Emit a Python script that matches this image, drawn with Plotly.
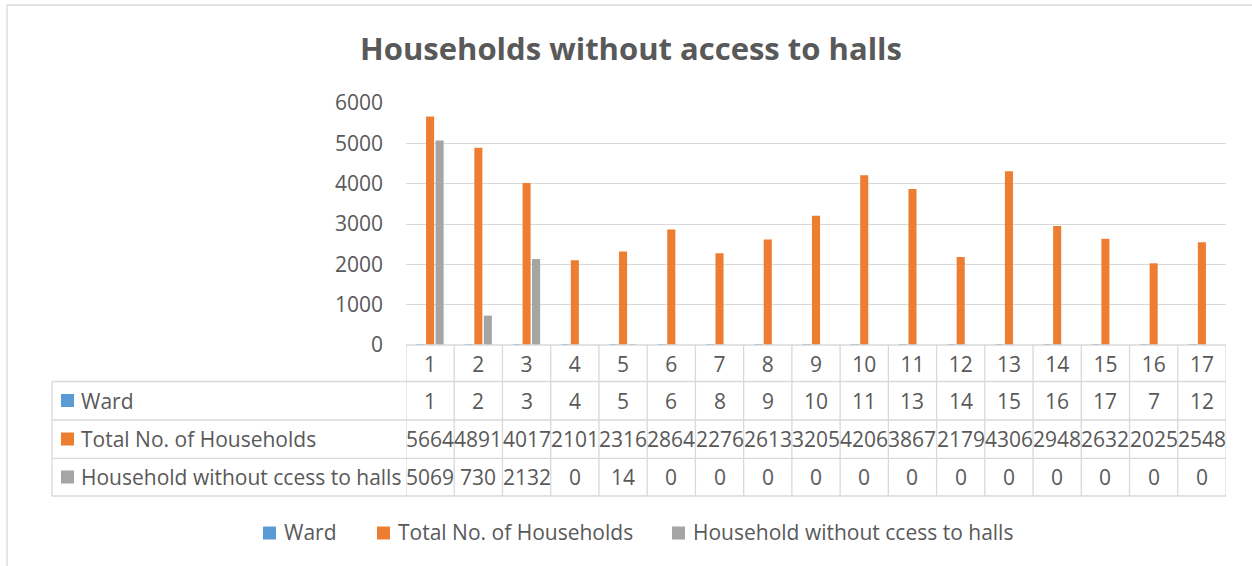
import plotly.graph_objects as go

# Ward-level data (column order follows the table)
columns = list(range(1, 18))
ward = [1, 2, 3, 4, 5, 6, 8, 9, 10, 11, 13, 14, 15, 16, 17, 7, 12]
total_households = [5664, 4891, 4017, 2101, 2316, 2864, 2276, 2613, 3205,
                    4206, 3867, 2179, 4306, 2948, 2632, 2025, 2548]
without_access = [5069, 730, 2132, 0, 14, 0, 0, 0, 0, 0, 0, 0, 0, 0, 0, 0, 0]

series_names = ["Ward", "Total No. of Households", "Household without ccess to halls"]
series_values = [ward, total_households, without_access]
series_colors = ["#5B9BD5", "#ED7D31", "#A5A5A5"]

W, H = 1252, 566
L, R, T, B = 406, 1226, 103, 345          # plot area in pixels
TEXT = "#595959"
GRID = "#D9D9D9"
FONT = "Open Sans"
FS = 21


def px(x):
    return (x - L) / (R - L)


def py(y):
    return (B - y) / (B - T)


fig = go.Figure()
for name, vals, col in zip(series_names, series_values, series_colors):
    fig.add_trace(go.Bar(x=columns, y=vals, name=name, marker_color=col,
                         marker_line_width=0, showlegend=False))

shapes = []
line = dict(color=GRID, width=1.3)

# outer chart frame (top and left edges)
shapes.append(dict(type="line", xref="paper", yref="paper",
                   x0=px(7), x1=px(W + 5), y0=py(5), y1=py(5), line=line))
shapes.append(dict(type="line", xref="paper", yref="paper",
                   x0=px(7), x1=px(7), y0=py(5), y1=py(H + 5), line=line))

# data table grid
row_lines = [381.5, 420, 458.3, 496]
shapes.append(dict(type="line", xref="paper", yref="paper",
                   x0=0, x1=1, y0=0, y1=0, line=line))
for yl in row_lines:
    shapes.append(dict(type="line", xref="paper", yref="paper",
                       x0=px(52), x1=1, y0=py(yl), y1=py(yl), line=line))
shapes.append(dict(type="line", xref="paper", yref="paper",
                   x0=px(52), x1=px(52), y0=py(381.5), y1=py(496), line=line))
for k in range(len(columns) + 1):
    xb = columns[0] - 0.5 + k
    shapes.append(dict(type="line", xref="x", yref="paper",
                       x0=xb, x1=xb, y0=0, y1=py(496), line=line))

annotations = []
row_centers = [400.5, 439, 477]
for name, vals, col, yc in zip(series_names, series_values, series_colors, row_centers):
    # colour key + row label
    shapes.append(dict(type="rect", xref="paper", yref="paper",
                       x0=px(61), x1=px(74), y0=py(yc - 6.5), y1=py(yc + 6.5),
                       fillcolor=col, line=dict(width=0)))
    annotations.append(dict(xref="paper", yref="paper", x=px(79), y=py(yc),
                            xanchor="left", yanchor="middle", showarrow=False,
                            text=name, font=dict(family=FONT, size=FS, color=TEXT)))
    for c, v in zip(columns, vals):
        annotations.append(dict(xref="x", yref="paper", x=c, y=py(yc),
                                xanchor="center", yanchor="middle", showarrow=False,
                                text=str(v), font=dict(family=FONT, size=FS, color=TEXT)))

# legend row beneath the table
legend_key_x = [263, 377, 672]
for name, col, kx in zip(series_names, series_colors, legend_key_x):
    shapes.append(dict(type="rect", xref="paper", yref="paper",
                       x0=px(kx), x1=px(kx + 13), y0=py(526.5), y1=py(539.5),
                       fillcolor=col, line=dict(width=0)))
    annotations.append(dict(xref="paper", yref="paper", x=px(kx + 19), y=py(532),
                            xanchor="left", yanchor="middle", showarrow=False,
                            text=name, font=dict(family=FONT, size=FS, color=TEXT)))

fig.update_layout(
    width=W, height=H,
    margin=dict(l=L, r=W - R, t=T, b=H - B, autoexpand=False),
    paper_bgcolor="white", plot_bgcolor="white",
    barmode="group", bargap=0.41, bargroupgap=0.15,
    font=dict(family=FONT, color=TEXT, size=FS),
    showlegend=False,
    title=dict(text="<b>Households without access to halls</b>",
               x=px(631), xref="paper", xanchor="center",
               y=1 - 49 / H, yanchor="middle",
               font=dict(family=FONT, size=31, color=TEXT)),
    xaxis=dict(range=[columns[0] - 0.5, columns[-1] + 0.5], tickvals=columns,
               showgrid=False, zeroline=False, showline=False,
               ticks="", ticklabelstandoff=5,
               tickfont=dict(family=FONT, size=FS, color=TEXT)),
    yaxis=dict(range=[0, 6000], dtick=1000, showgrid=True, gridcolor=GRID,
               gridwidth=1.3, zeroline=False, showline=False, ticks="",
               ticklabelstandoff=22,
               tickfont=dict(family=FONT, size=FS, color=TEXT)),
    shapes=shapes, annotations=annotations,
)

fig.write_html("out.html")
